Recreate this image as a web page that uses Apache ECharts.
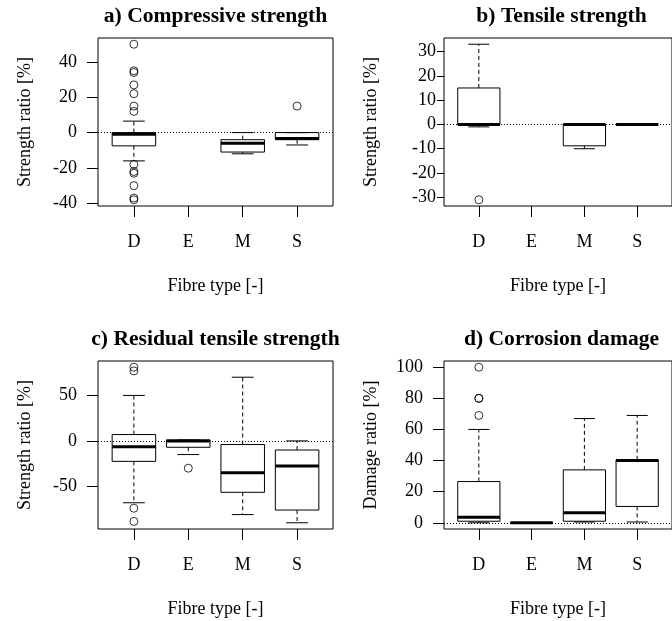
<!DOCTYPE html>
<html>
<head>
<meta charset="utf-8">
<script src="https://cdn.jsdelivr.net/npm/echarts@6/dist/echarts.min.js"></script>
<style>
html,body{margin:0;padding:0;background:#fff;}
#chart{width:672px;height:621px;}
</style>
</head>
<body>
<div id="chart"></div>
<script>
// ---- data ----
const categories = ['D', 'E', 'M', 'S'];
// box stats per category: [lower whisker, Q1, median, Q3, upper whisker]
const compressiveBox = [[-16, -7.5, -1, 0, 6.5], null, [-12, -11, -6, -4, 0], [-7, -4, -3.3, 0, 0]];
const compressiveOut = [[50, 35, 34, 27, 22, 15, 12, -18, -22, -23, -30, -37, -38], [], [], [15]];
const tensileBox = [[-1, 0, 0, 15, 33], null, [-10, -8.8, 0, 0, 0], [0, 0, 0, 0, 0]];
const tensileOut = [[-31], [], [], []];
const residualBox = [[-68, -22.5, -6.5, 7, 50], [-15, -7, 0, 1, 1], [-81, -56.5, -35, -4, 70], [-90, -76, -27.5, -10, 0]];
const residualOut = [[81, 77, -74, -88.5], [-30], [], []];
const damageBox = [[0, 1, 3.5, 26.5, 60], [0, 0, 0, 0, 0], [0.5, 1, 6.5, 34, 67], [0.5, 10.5, 40, 40.5, 69]];
const damageOut = [[69, 80, 80, 100], [], [], []];

const titles = ['a) Compressive strength', 'b) Tensile strength', 'c) Residual tensile strength', 'd) Corrosion damage'];
const yNames = ['Strength ratio [%]', 'Strength ratio [%]', 'Strength ratio [%]', 'Damage ratio [%]'];
const xName = 'Fibre type [-]';
const yTicks = [[-40, -20, 0, 20, 40], [-30, -20, -10, 0, 10, 20, 30], [-50, 0, 50], [0, 20, 40, 60, 80, 100]];
const xTicks = [1, 2, 3, 4];

const boxes = [compressiveBox, tensileBox, residualBox, damageBox];
const outs = [compressiveOut, tensileOut, residualOut, damageOut];

// ---- layout ----
const FONT = '"Liberation Serif", "Times New Roman", serif';
const grids = [
  {left: 98, top: 38, width: 235, height: 168},
  {left: 444, top: 38, width: 235, height: 168},
  {left: 98, top: 361, width: 235, height: 168},
  {left: 444, top: 361, width: 235, height: 168}
];
const yLabelMargin = [21, 8, 21, 21];
const yTickLen = [11, 7, 11, 11];

function rangeOf(i) {
  let vals = [];
  boxes[i].forEach(b => { if (b) vals = vals.concat(b); });
  outs[i].forEach(o => { vals = vals.concat(o); });
  const mn = Math.min.apply(null, vals), mx = Math.max.apply(null, vals);
  const ext = (mx - mn) * 0.04;
  return [mn - ext, mx + ext];
}

function renderBox(params, api) {
  const x = api.value(0);
  const lo = api.value(1), q1 = api.value(2), md = api.value(3), q3 = api.value(4), hi = api.value(5);
  const half = 0.4, cap = 0.2;
  const c = (a, b) => api.coord([a, b]);
  const line = (p1, p2, style) => ({
    type: 'line',
    shape: {x1: p1[0], y1: p1[1], x2: p2[0], y2: p2[1]},
    style: Object.assign({stroke: '#000', lineWidth: 1}, style || {})
  });
  const tl = c(x - half, q3), br = c(x + half, q1);
  return {
    type: 'group',
    children: [
      line(c(x, q3), c(x, hi), {lineDash: [4, 3]}),
      line(c(x, q1), c(x, lo), {lineDash: [4, 3]}),
      line(c(x - cap, hi), c(x + cap, hi)),
      line(c(x - cap, lo), c(x + cap, lo)),
      {type: 'rect', shape: {x: tl[0], y: tl[1], width: br[0] - tl[0], height: br[1] - tl[1]},
       style: {fill: 'none', stroke: '#000', lineWidth: 1}},
      line(c(x - half, md), c(x + half, md), {lineWidth: 3})
    ]
  };
}

const option = {
  animation: false,
  backgroundColor: '#fff',
  grid: grids.map(g => Object.assign({show: true, borderColor: '#000', borderWidth: 1, backgroundColor: 'transparent'}, g)),
  xAxis: grids.map((g, i) => ({
    type: 'value', gridIndex: i, min: 0.34, max: 4.66,
    axisLine: {show: false, onZero: false},
    splitLine: {show: false},
    axisTick: {show: true, length: 11, customValues: xTicks, lineStyle: {color: '#000', width: 1}},
    axisLabel: {customValues: xTicks, formatter: v => categories[Math.round(v) - 1], color: '#000',
                fontFamily: FONT, fontSize: 18, margin: 27},
    name: xName, nameLocation: 'middle', nameGap: 71,
    nameTextStyle: {color: '#000', fontFamily: FONT, fontSize: 18}
  })),
  yAxis: grids.map((g, i) => {
    const r = rangeOf(i);
    return {
      type: 'value', gridIndex: i, min: r[0], max: r[1],
      axisLine: {show: false, onZero: false},
      splitLine: {show: false},
      axisTick: {show: true, length: yTickLen[i], customValues: yTicks[i], lineStyle: {color: '#000', width: 1}},
      axisLabel: {customValues: yTicks[i], color: '#000', fontFamily: FONT, fontSize: 18, margin: yLabelMargin[i]},
      name: yNames[i], nameLocation: 'middle', nameGap: 64, nameRotate: 90,
      nameTextStyle: {color: '#000', fontFamily: FONT, fontSize: 18}
    };
  }),
  graphic: titles.map((t, i) => ({
    type: 'text',
    x: grids[i].left + grids[i].width / 2,
    y: grids[i].top - 21.5,
    style: {text: t, font: 'bold 21.6px ' + FONT, fill: '#000', align: 'center', verticalAlign: 'middle'}
  })),
  series: []
};

boxes.forEach((bx, i) => {
  const data = [];
  bx.forEach((b, k) => { if (b) data.push([xTicks[k]].concat(b)); });
  option.series.push({
    type: 'custom', xAxisIndex: i, yAxisIndex: i,
    renderItem: renderBox,
    encode: {x: 0, y: [1, 2, 3, 4, 5]},
    data: data,
    z: 3,
    markLine: {
      silent: true, symbol: ['none', 'none'], label: {show: false},
      lineStyle: {color: '#000', width: 1, type: [1, 2]},
      data: [{yAxis: 0}],
      z: 5
    }
  });
  const pts = [];
  outs[i].forEach((o, k) => o.forEach(v => pts.push([xTicks[k], v])));
  option.series.push({
    type: 'scatter', xAxisIndex: i, yAxisIndex: i,
    symbol: 'circle', symbolSize: 8,
    itemStyle: {color: 'transparent', borderColor: '#000', borderWidth: 1},
    data: pts, z: 4
  });
});

const chart = echarts.init(document.getElementById('chart'), null, {renderer: 'canvas'});
chart.setOption(option);
</script>
</body>
</html>
